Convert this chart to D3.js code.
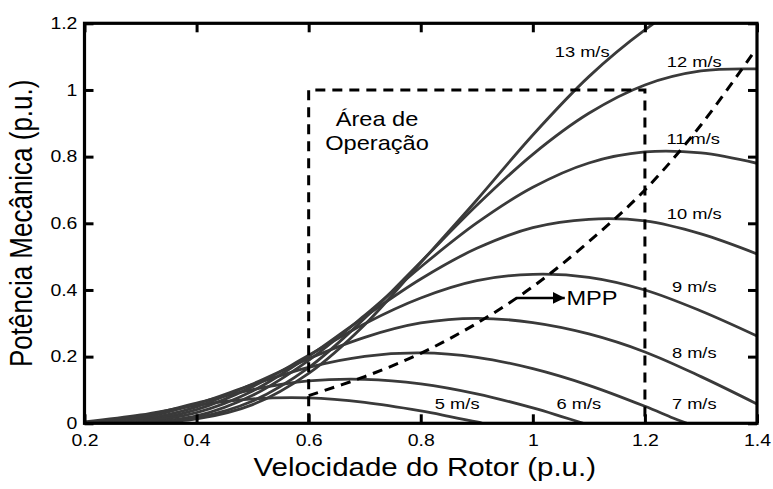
<!DOCTYPE html>
<html><head><meta charset="utf-8">
<script src="https://cdn.jsdelivr.net/npm/d3@7"></script>
<style>body{margin:0;background:#fff} svg{display:block}</style>
</head><body><svg id="c" width="773" height="489"></svg>
<script>
// ---- data ----
const xTicks = [0.2, 0.4, 0.6, 0.8, 1.0, 1.2, 1.4];
const xTickLabels = ["0.2", "0.4", "0.6", "0.8", "1", "1.2", "1.4"];
const yTicks = [0, 0.2, 0.4, 0.6, 0.8, 1.0, 1.2];
const yTickLabels = ["0", "0.2", "0.4", "0.6", "0.8", "1", "1.2"];

const speedLabels = ["5 m/s", "6 m/s", "7 m/s", "8 m/s", "9 m/s", "10 m/s", "11 m/s", "12 m/s", "13 m/s"];
const grid = [0.2, 0.3, 0.4, 0.5, 0.6, 0.7, 0.8, 0.9, 1.0, 1.1, 1.2, 1.3, 1.4];

const w5 = [0.2, 0.3, 0.4, 0.5, 0.6, 0.7, 0.8, 0.85, 0.9, 0.91];
const p5 = [0.004, 0.025, 0.054, 0.073, 0.076, 0.0625, 0.037, 0.021, 0.004, 0];
const w6 = [0.2, 0.3, 0.4, 0.5, 0.6, 0.7, 0.8, 0.9, 1.0, 1.05, 1.09];
const p6 = [0.002, 0.021, 0.0605, 0.101, 0.127, 0.132, 0.1185, 0.0885, 0.046, 0.021, 0];
const w7 = [0.2, 0.3, 0.4, 0.5, 0.6, 0.7, 0.8, 0.9, 1.0, 1.1, 1.2, 1.25, 1.275];
const p7 = [0.001, 0.015, 0.058, 0.116, 0.168, 0.201, 0.211, 0.198, 0.164, 0.114, 0.051, 0.016, 0];
const p8 = [0, 0.011, 0.0495, 0.118, 0.194, 0.258, 0.301, 0.315, 0.302, 0.268, 0.214, 0.14, 0.058];
const p9 = [0, 0.007, 0.041, 0.110, 0.204, 0.299, 0.376, 0.428, 0.447, 0.438, 0.400, 0.337, 0.262];
const p10 = [0, 0.005, 0.032, 0.097, 0.201, 0.320, 0.433, 0.525, 0.587, 0.612, 0.607, 0.568, 0.508];
const p11 = [0, 0.0025, 0.022, 0.084, 0.189, 0.324, 0.469, 0.601, 0.708, 0.781, 0.814, 0.811, 0.780];
const p12 = [0, 0.001, 0.017, 0.067, 0.167, 0.315, 0.484, 0.654, 0.807, 0.930, 1.015, 1.057, 1.063];
const p13 = [0, 0.0005, 0.013, 0.056, 0.150, 0.296, 0.482, 0.670, 0.865, 1.040, 1.180, 1.290, 1.340];

const mppW = [0.6, 0.7, 0.8, 0.9, 1.0, 1.1, 1.2, 1.3, 1.395];
const mppP = [0.083, 0.140, 0.210, 0.300, 0.410, 0.545, 0.700, 0.895, 1.115];

const opArea = {x0: 0.6, x1: 1.2, y0: 0, y1: 1.0};

// ---- layout ----
const svg = d3.select("#c");
const L = 84.5, R = 757, T = 23.3, B = 423.3;
const x = d3.scaleLinear().domain([0.2, 1.4]).range([L, R]);
const y = d3.scaleLinear().domain([0, 1.2]).range([B, T]);
const SX = 1.18;
const FONT = "Liberation Sans, Arial, Helvetica, sans-serif";

svg.append("defs").append("clipPath").attr("id", "clip")
  .append("rect").attr("x", L).attr("y", T).attr("width", R - L).attr("height", B - T);

const series = [
  {w: w5, p: p5}, {w: w6, p: p6}, {w: w7, p: p7},
  {w: grid, p: p8}, {w: grid, p: p9}, {w: grid, p: p10},
  {w: grid, p: p11}, {w: grid, p: p12}, {w: grid, p: p13}
];
const line = d3.line().x(d => x(d[0])).y(d => y(d[1])).curve(d3.curveCatmullRom.alpha(0.5));
const gC = svg.append("g").attr("clip-path", "url(#clip)");
series.forEach(s => {
  gC.append("path").attr("d", line(s.w.map((w, i) => [w, s.p[i]])))
    .attr("fill", "none").attr("stroke", "#3a3a3a").attr("stroke-width", 2.8);
});

// dashed MPP curve
gC.append("path").attr("d", line(mppW.map((w, i) => [w, mppP[i]])))
  .attr("fill", "none").attr("stroke", "#000").attr("stroke-width", 3).attr("stroke-dasharray", "10,7");

// dashed operation area
const rectPath = d3.path();
rectPath.moveTo(x(opArea.x0), y(opArea.y0));
rectPath.lineTo(x(opArea.x0), y(opArea.y1));
rectPath.lineTo(x(opArea.x1), y(opArea.y1));
rectPath.lineTo(x(opArea.x1), y(opArea.y0));
svg.append("path").attr("d", rectPath.toString()).attr("fill", "none")
  .attr("stroke", "#000").attr("stroke-width", 3).attr("stroke-dasharray", "10,7");

// ---- axes ----
function styleAxis(g) {
  g.select(".domain").remove();
  g.selectAll(".tick line").attr("stroke", "#000").attr("stroke-width", 3);
}
const gx = svg.append("g").attr("transform", `translate(0,${B})`)
  .call(d3.axisBottom(x).tickValues(xTicks).tickFormat((d, i) => xTickLabels[i]).tickSizeInner(-9).tickSizeOuter(0).tickPadding(11));
styleAxis(gx);
gx.selectAll(".tick text").attr("font-family", FONT).attr("font-size", 16.5).attr("fill", "#000")
  .attr("transform", `scale(${SX},1)`);

const gy = svg.append("g").attr("transform", `translate(${L},0)`)
  .call(d3.axisLeft(y).tickValues(yTicks).tickFormat((d, i) => yTickLabels[i]).tickSizeInner(-9).tickSizeOuter(0).tickPadding(6));
styleAxis(gy);
gy.selectAll(".tick text").attr("font-family", FONT).attr("font-size", 16.5).attr("fill", "#000")
  .attr("transform", `scale(${SX},1)`);

const gt = svg.append("g").attr("transform", `translate(0,${T})`)
  .call(d3.axisTop(x).tickValues(xTicks).tickFormat("").tickSizeInner(-9).tickSizeOuter(0));
styleAxis(gt);
const gr = svg.append("g").attr("transform", `translate(${R},0)`)
  .call(d3.axisRight(y).tickValues(yTicks).tickFormat("").tickSizeInner(-9).tickSizeOuter(0));
styleAxis(gr);

svg.append("rect").attr("x", L).attr("y", T).attr("width", R - L).attr("height", B - T)
  .attr("fill", "none").attr("stroke", "#000").attr("stroke-width", 3.2);

// ---- texts ----
function label(txt, px, py, size, anchor) {
  return svg.append("text").attr("transform", `translate(${px},${py}) scale(${SX},1)`)
    .attr("text-anchor", anchor || "middle").attr("dy", "0.36em")
    .attr("font-family", FONT).attr("font-size", size).attr("fill", "#000").text(txt);
}
const speedPos = [[0.865, 0.061], [1.082, 0.061], [1.288, 0.061], [1.288, 0.214], [1.288, 0.412],
                  [1.288, 0.631], [1.286, 0.856], [1.288, 1.087], [1.088, 1.117]];
speedLabels.forEach((t, i) => label(t, x(speedPos[i][0]), y(speedPos[i][1]), 15.5));

label("Área de", x(0.722), y(0.915), 20);
label("Operação", x(0.722), y(0.842), 20);

// MPP arrow
svg.append("defs").append("marker").attr("id", "ah").attr("viewBox", "0 0 10 10")
  .attr("refX", 10).attr("refY", 5).attr("markerWidth", 4.6).attr("markerHeight", 4.6)
  .attr("markerUnits", "strokeWidth").attr("orient", "auto")
  .append("path").attr("d", "M0,0L10,5L0,10Z").attr("fill", "#000");
svg.append("line").attr("x1", x(0.97)).attr("y1", y(0.376)).attr("x2", x(1.057)).attr("y2", y(0.376))
  .attr("stroke", "#000").attr("stroke-width", 2.6).attr("marker-end", "url(#ah)");
label("MPP", x(1.06), y(0.376), 20, "start");

// axis titles
svg.append("text").attr("transform", `translate(${(L + R) / 2 + 4},${476}) scale(${SX},1)`)
  .attr("text-anchor", "middle").attr("font-family", FONT).attr("font-size", 25).attr("fill", "#000")
  .text("Velocidade do Rotor (p.u.)");
svg.append("text").attr("transform", `translate(${32},${(T + B) / 2}) rotate(-90) scale(1,${SX})`)
  .attr("text-anchor", "middle").attr("font-family", FONT).attr("font-size", 26).attr("fill", "#000")
  .text("Potência Mecânica (p.u.)");
</script>
</body></html>
